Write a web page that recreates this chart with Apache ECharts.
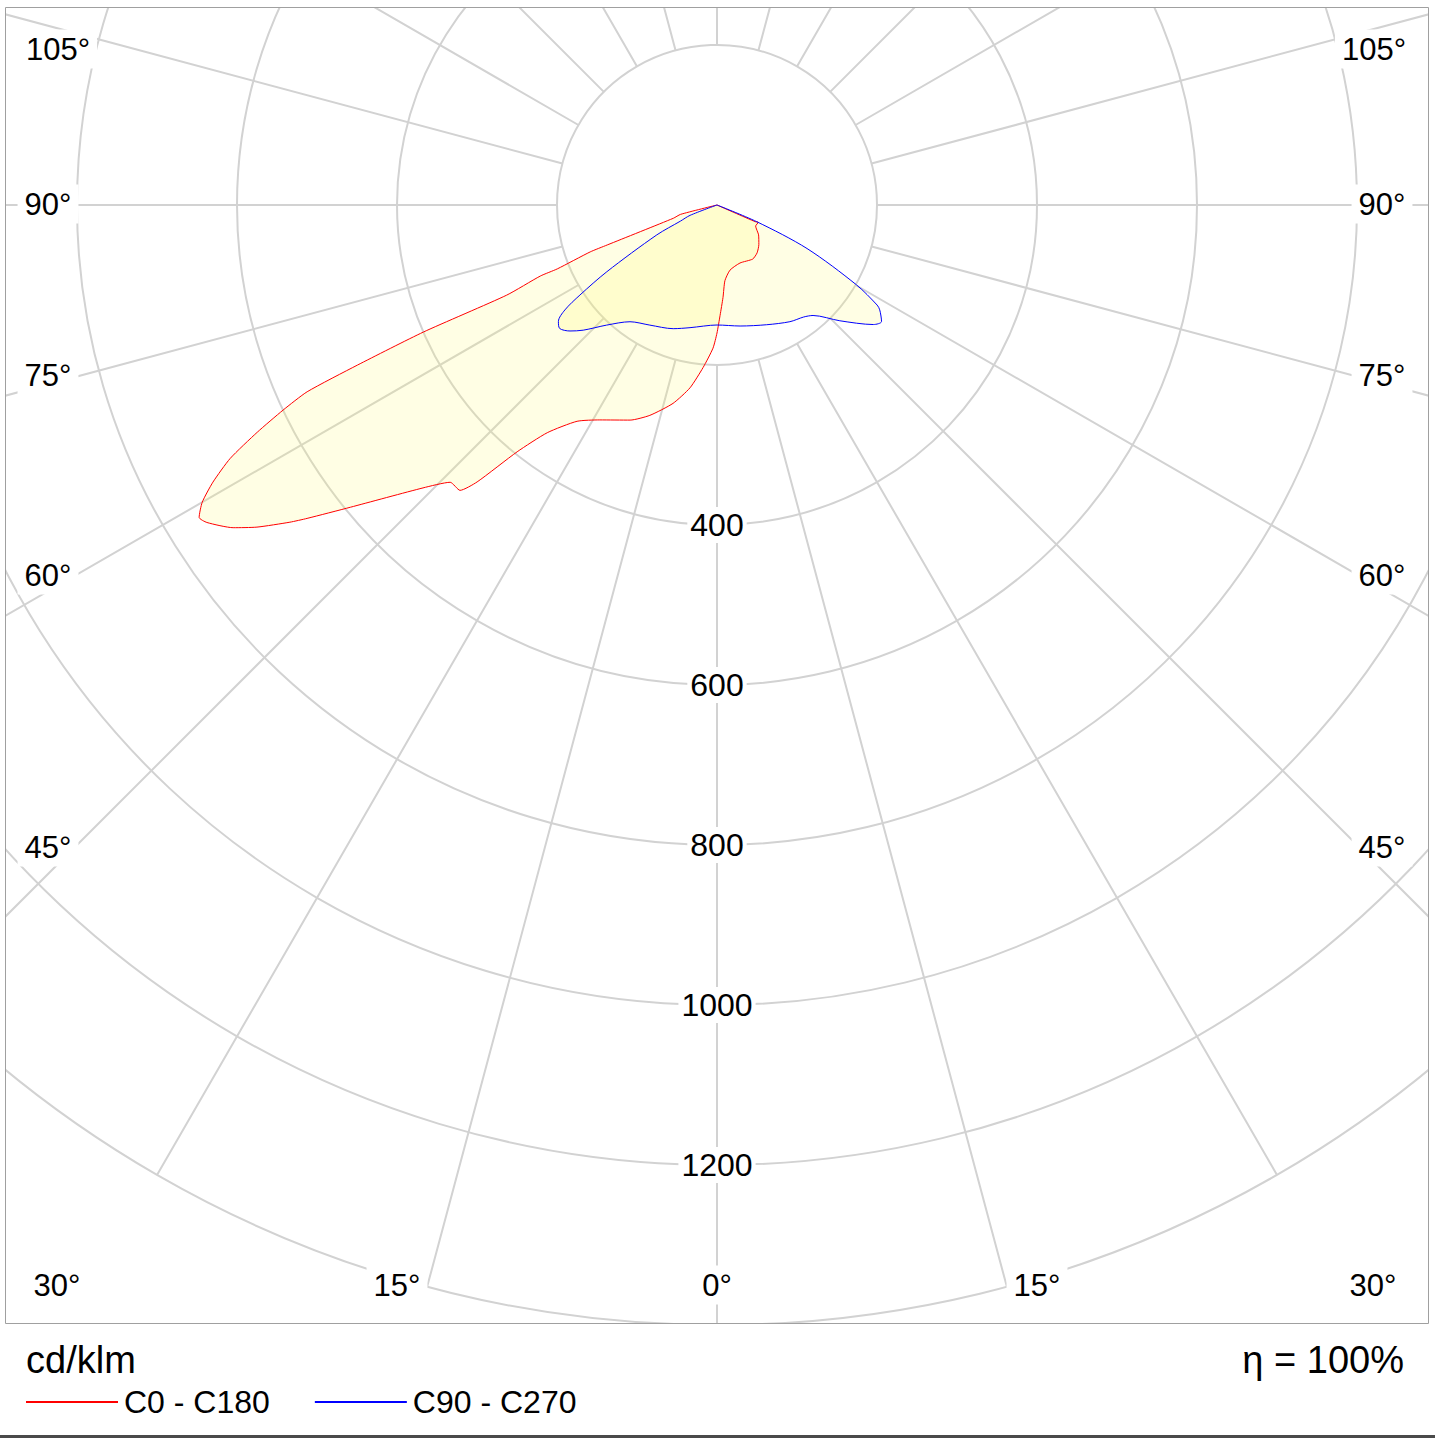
<!DOCTYPE html>
<html>
<head>
<meta charset="utf-8">
<title>Light distribution curve</title>
<script src="https://cdn.jsdelivr.net/npm/echarts@6/dist/echarts.min.js"></script>
<style>
    html, body { margin: 0; padding: 0; background: #fff; }
    #chart { width: 1435px; height: 1439px; }
</style>
</head>
<body>
<div id="chart"></div>
<script>
// Intensities in cd/klm, gamma in degrees (left half positive, right half negative)
const redGamma = [90, 75.6, 73.1, 70.0, 69.7, 68.2, 68.1, 66.8, 66.6, 66.0, 65.5, 64.7, 63.7, 62.5,
    61.2, 60.0, 58.9, 58.1, 56.3, 55.0, 53.4, 52.6, 50.5, 46.1, 43.9, 42.0, 40.9, 39.0, 36.7, 32.9,
    28.6, 22.0, 17.7, 12.5, 8.4, 4.9, 1.6, 0, -1.6, -3.7, -6.0, -11.3, -21.6, -33.5, -40.0, -46.6,
    -54.3, -61.4, -67.3, -66.4, -90];
const redValues = [0, 47, 57, 146, 169, 215, 238, 286, 400, 492, 563, 600, 641, 686,
    719, 743, 756, 751, 727, 702, 665, 645, 594, 510, 481, 480, 458, 397, 355, 322,
    306, 290, 276, 254, 231, 204, 179, 160, 138, 116, 95, 83, 78, 81, 78, 72,
    64, 55, 56, 52, 0];

const blueGamma = [90, 69, 66.2, 63.6, 58.8, 56.7, 55.4, 53.7, 51.9, 49.4, 46.9, 42.6, 36.7, 29.2,
    19.5, 12.4, 0, -10.8, -22.5, -32, -37.7, -41, -46.7, -52.6, -54.7, -57.2, -58, -60.2, -64.2,
    -67.2, -90];
const blueValues = [0, 36, 50, 84, 161, 205, 231, 246, 250, 242, 229, 204, 182, 172,
    164, 157, 150, 154, 162, 172, 177, 183, 211, 246, 252, 242, 236, 201, 125,
    54, 0];

const seriesNames = ['C0 - C180', 'C90 - C270'];
const angleTicks = [105, 90, 75, 60, 45, 30, 15, 0];

// where the gamma labels sit inside the frame
const leftLabelPos = { 105: [58, 49], 90: [48, 204], 75: [48, 375], 60: [48, 575],
    45: [48, 847], 30: [57, 1285], 15: [397, 1285], 0: [717, 1285] };
const rightLabelPos = { 105: [1374, 49], 90: [1382, 204], 75: [1382, 375], 60: [1382, 575],
    45: [1382, 847], 30: [1373, 1285], 15: [1037, 1285] };

const FONT = '"Liberation Sans", Arial, sans-serif';
const GRID = '#d2d2d2';
const FILL = 'rgba(255, 250, 100, 0.25)';
const CENTER = [717, 205];

// gamma -> angle axis value (0 at the bottom, running clockwise through the left)
function toPolar(gammas, values) {
    return gammas.map((g, i) => [values[i], g >= 0 ? g : 360 + g]);
}

function angleLabel(text, pos) {
    return {
        type: 'text', z: 120,
        style: {
            text: text, x: pos[0], y: pos[1],
            align: 'center', verticalAlign: 'middle',
            font: '31px ' + FONT, fill: '#000',
            backgroundColor: '#fff', padding: [4, 7]
        }
    };
}

const graphics = [
    // white frame around the plot box (clips rings and spokes)
    { type: 'rect', z: 100, shape: { x: 0, y: 0, width: 1435, height: 7 }, style: { fill: '#fff' } },
    { type: 'rect', z: 100, shape: { x: 0, y: 0, width: 5, height: 1340 }, style: { fill: '#fff' } },
    { type: 'rect', z: 100, shape: { x: 1429, y: 0, width: 6, height: 1340 }, style: { fill: '#fff' } },
    { type: 'rect', z: 100, shape: { x: 0, y: 1324, width: 1435, height: 14 }, style: { fill: '#fff' } },
    { type: 'rect', z: 110, shape: { x: 5.5, y: 7.5, width: 1423, height: 1316 },
      style: { fill: 'none', stroke: '#a0a0a0', lineWidth: 1 } },
    { type: 'line', z: 110, shape: { x1: 0, y1: 1436.5, x2: 1435, y2: 1436.5 },
      style: { stroke: '#4a4a4a', lineWidth: 3 } },
    { type: 'text', z: 120, style: { text: 'cd/klm', x: 26, y: 1360, align: 'left',
      verticalAlign: 'middle', font: '38px ' + FONT, fill: '#000' } },
    { type: 'text', z: 120, style: { text: 'η = 100%', x: 1404, y: 1360, align: 'right',
      verticalAlign: 'middle', font: '38px ' + FONT, fill: '#000' } }
];
angleTicks.forEach(a => {
    if (leftLabelPos[a]) graphics.push(angleLabel(a + '°', leftLabelPos[a]));
    if (rightLabelPos[a]) graphics.push(angleLabel(a + '°', rightLabelPos[a]));
});

const hiddenAxis = {
    axisLine: { show: false },
    axisTick: { show: false },
    axisLabel: { show: false },
    splitLine: { show: false },
    splitArea: { show: false }
};

const chart = echarts.init(document.getElementById('chart'), null, { renderer: 'svg' });

const option = {
    animation: false,
    polar: [
        // grid: rings and spokes start at the 200 ring
        { center: CENTER, radius: [160, 1120] },
        // curves: same scale, down to the centre
        { center: CENTER, radius: [0, 1120] }
    ],
    angleAxis: [
        {
            polarIndex: 0,
            type: 'value',
            min: 0,
            max: 360,
            interval: 15,
            startAngle: 270,
            clockwise: true,
            z: 0,
            axisLine: { show: false },
            axisTick: { show: false },
            axisLabel: { show: false },
            splitLine: { show: true, lineStyle: { color: GRID, width: 2 } }
        },
        Object.assign({
            polarIndex: 1, type: 'value', min: 0, max: 360, interval: 15,
            startAngle: 270, clockwise: true
        }, hiddenAxis)
    ],
    radiusAxis: [
        {
            polarIndex: 0,
            type: 'value',
            min: 200,
            max: 1400,
            interval: 200,
            z: 1,
            axisLine: { show: false },
            axisTick: { show: false },
            axisLabel: {
                show: true,
                showMinLabel: false,
                showMaxLabel: false,
                margin: 0,
                align: 'center',
                verticalAlign: 'middle',
                formatter: v => String(v),
                color: '#000',
                fontSize: 32,
                fontFamily: FONT,
                backgroundColor: '#fff',
                padding: [2, 3]
            },
            splitLine: { show: true, lineStyle: { color: GRID, width: 2 } }
        },
        Object.assign({
            polarIndex: 1, type: 'value', min: 0, max: 1400, interval: 200
        }, hiddenAxis)
    ],
    legend: {
        data: seriesNames,
        left: 20,
        top: 1381,
        itemWidth: 92,
        itemHeight: 30,
        itemGap: 44,
        selectedMode: false,
        z: 200,
        itemStyle: { opacity: 0 },
        textStyle: { fontSize: 32, fontFamily: FONT, color: '#000', padding: [0, 0, 0, 1] }
    },
    series: [
        {
            name: seriesNames[0],
            type: 'line',
            coordinateSystem: 'polar',
            polarIndex: 1,
            data: toPolar(redGamma, redValues),
            symbol: 'none',
            smooth: 0.2,
            clip: false,
            silent: true,
            z: 3,
            lineStyle: { color: '#ff0000', width: 1 },
            itemStyle: { color: '#ff0000' },
            areaStyle: { color: FILL, origin: 0 }
        },
        {
            name: seriesNames[1],
            type: 'line',
            coordinateSystem: 'polar',
            polarIndex: 1,
            data: toPolar(blueGamma, blueValues),
            symbol: 'none',
            smooth: 0.3,
            clip: false,
            silent: true,
            z: 3,
            lineStyle: { color: '#0000ff', width: 1 },
            itemStyle: { color: '#0000ff' },
            areaStyle: { color: FILL, origin: 0 }
        }
    ],
    graphic: graphics
};

chart.setOption(option);
</script>
</body>
</html>
